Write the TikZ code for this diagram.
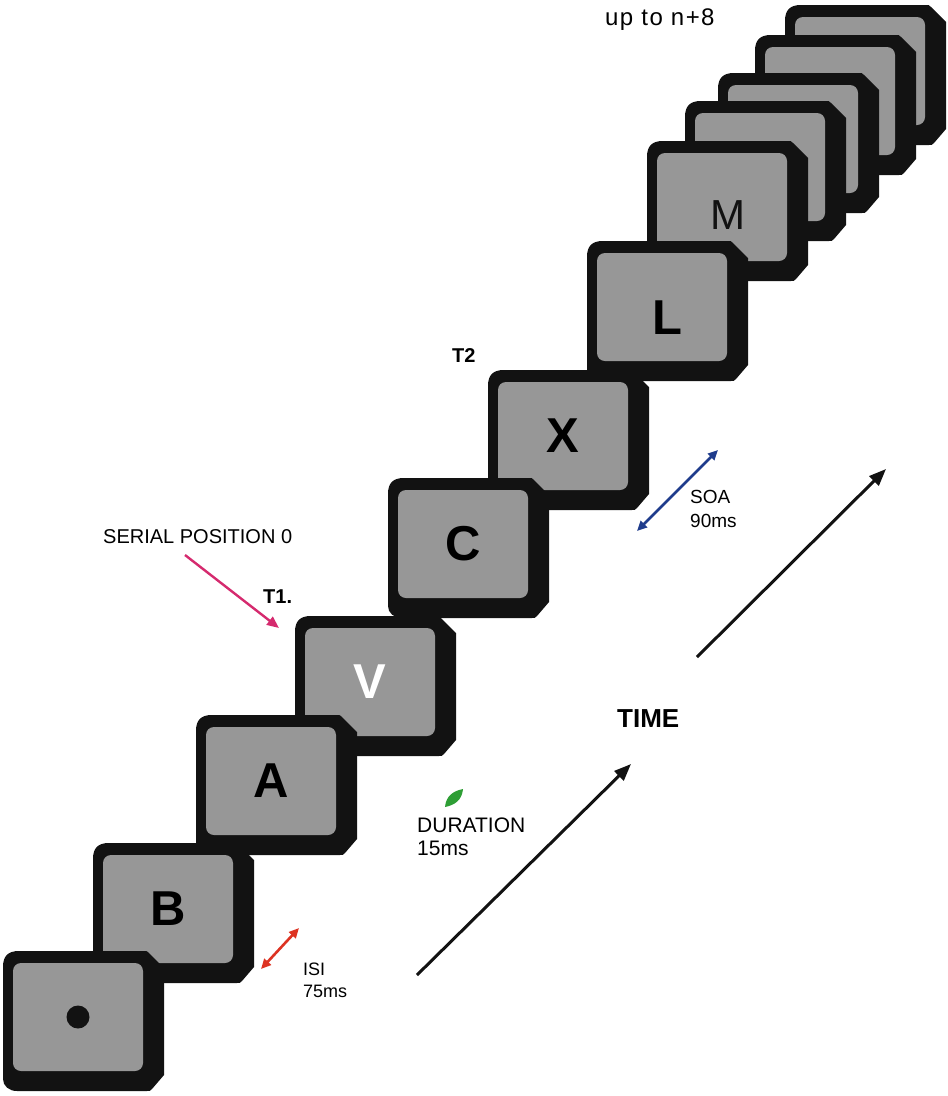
\documentclass[tikz,border=0pt]{standalone}
\usepackage{fontspec}
\setmainfont{Liberation Sans}
\usetikzlibrary{arrows.meta}

\definecolor{framebk}{HTML}{121212}
\definecolor{screen}{HTML}{979797}
\definecolor{serialpink}{HTML}{D52A6E}
\definecolor{isired}{HTML}{DD3322}
\definecolor{soablue}{HTML}{1F3C8C}
\definecolor{leafgreen}{HTML}{2E9E35}

\tikzset{
  % one display frame, placed at the top-left corner of its grey screen
  rsvpframe/.pic={
    \fill[framebk]
      (-10,116) -- (-10,4) .. controls (-10,-7) and (-5,-12) .. (6,-12)
      -- (131,-12) .. controls (134,-12) .. (136,-10)
      -- (151,5) -- (151,112)
      -- (139,126) .. controls (137,128) .. (134,128)
      -- (4,128) .. controls (-4,128) and (-10,123) .. (-10,116) -- cycle;
    \fill[screen, rounded corners=8pt] (0,0) rectangle (130,108);
    \coordinate (-c) at (65,54);
  },
  stim/.style={font=\fontsize{49}{49}\selectfont\bfseries, inner sep=0pt},
  lbl/.style={anchor=base west, inner sep=0pt},
  timearrow/.style={line width=3pt, framebk, -{Triangle[length=17pt, width=13pt]}},
  span/.style={line width=2.6pt, {Triangle[length=10pt, width=9pt]}-{Triangle[length=10pt, width=9pt]}},
}

\begin{document}
\begin{tikzpicture}[x=1pt, y=-1pt]
\useasboundingbox (0,0) rectangle (948,1096);

% frames, from the last one (back) to the fixation frame (front)
\pic (f12) at (795,17)  {rsvpframe};
\pic (f11) at (765,47)  {rsvpframe};
\pic (f10) at (728,85)  {rsvpframe};
\pic (f9)  at (695,113) {rsvpframe};
\pic (f8)  at (657,153) {rsvpframe};
\pic (f7)  at (597,253) {rsvpframe};
\pic (f6)  at (498,382) {rsvpframe};
\pic (f5)  at (398,490) {rsvpframe};
\pic (f4)  at (305,628) {rsvpframe};
\pic (f3)  at (206,727) {rsvpframe};
\pic (f2)  at (103,855) {rsvpframe};
\pic (f1)  at (13,963)  {rsvpframe};

% stimuli
\fill[framebk] (f1-c) circle (11.5);
\node[stim] (sB) at (f2-c) {B};
\node[stim] (sA) at (f3-c) {A};
\node[stim, white] (sV) at (f4-c) {V};
\node[stim] (sC) at (f5-c) {C};
\node[stim] (sX) at (f6-c) {X};
\node[stim] (sL) at ([shift={(5,11)}]f7-c) {L};
\node[inner sep=0pt, font=\fontsize{42}{42}\selectfont, text=framebk] (sM) at ([shift={(6,8)}]f8-c) {M};

% labels
\node[lbl, font=\fontsize{24}{24}\selectfont\addfontfeature{LetterSpace=6}] (upto) at (605,25) {up to n+8};
\node[lbl, font=\fontsize{20}{20}\selectfont\bfseries] (t2) at (452,362) {T2};
\node[lbl, font=\fontsize{20}{20}\selectfont] (serial) at (103,543) {SERIAL POSITION 0};
\node[lbl, font=\fontsize{20}{20}\selectfont\bfseries] (t1) at (263,603) {T1.};
\node[lbl, font=\fontsize{26}{26}\selectfont\bfseries] (time) at (617,727) {TIME};
\node[lbl, font=\fontsize{21}{21}\selectfont] (dur) at (417,832) {DURATION};
\node[lbl, font=\fontsize{21}{21}\selectfont] (dur2) at (417,855) {15ms};
\node[lbl, font=\fontsize{18}{18}\selectfont] (isi) at (303,975) {ISI};
\node[lbl, font=\fontsize{18}{18}\selectfont] (isi2) at (303,997) {75ms};
\node[lbl, font=\fontsize{19}{19}\selectfont] (soa) at (690,503) {SOA};
\node[lbl, font=\fontsize{19}{19}\selectfont] (soa2) at (690,527) {90ms};

% arrow end points
\coordinate (serialS) at (185,555);
\coordinate (serialE) at (279,628);
\coordinate (isiA) at (261,969);
\coordinate (isiB) at (299,928);
\coordinate (soaA) at (637,531);
\coordinate (soaB) at (718,450);
\coordinate (timeA1) at (417,975);
\coordinate (timeB1) at (631,764);
\coordinate (timeA2) at (697,657);
\coordinate (timeB2) at (886,469);

% connectors
\draw[serialpink, line width=2.4pt, -{Triangle[length=12pt, width=10pt]}] (serialS) -- (serialE);
\draw[span, isired] (isiA) -- (isiB);
\draw[span, soablue] (soaA) -- (soaB);
\draw[timearrow] (timeA1) -- (timeB1);
\draw[timearrow] (timeA2) -- (timeB2);

% duration marker
\fill[leafgreen] (445,807) .. controls (446,796) and (453,791) .. (463,789)
  .. controls (462,800) and (455,805) .. cycle;
\end{tikzpicture}
\end{document}
